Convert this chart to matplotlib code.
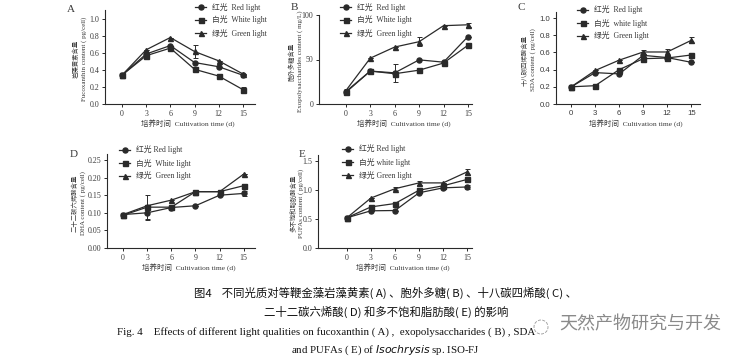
import numpy as np
import matplotlib.pyplot as plt
from matplotlib.lines import Line2D
from matplotlib.patches import Circle

plt.rcParams['font.family'] = ['Liberation Serif', 'Noto Sans CJK SC']
plt.rcParams['font.size'] = 6

W, H = 752, 359
days = [0, 3, 6, 9, 12, 15]

# fucoxanthin (pg/cell)
fx_red = [0.34, 0.59, 0.69, 0.49, 0.44, 0.34]
fx_white = [0.34, 0.57, 0.66, 0.41, 0.33, 0.17]
fx_green = [0.34, 0.64, 0.785, 0.62, 0.51, 0.355]
fx_err_green = [0, 0, 0, 0.075, 0, 0]
fx_err_white = [0, 0, 0, 0, 0, 0.025]

# exopolysaccharides (mg/L)
eps_red = [14, 37, 35, 49.6, 47, 75.7]
eps_white = [13, 37, 34, 38, 46, 66]
eps_green = [15, 51.5, 64, 70, 88, 89]
eps_err_red = [3, 0, 10.5, 0, 0, 0]
eps_err_green = [0, 0, 0, 5, 0, 2]

# SDA (pg/cell)
sda_red = [0.20, 0.365, 0.35, 0.566, 0.54, 0.485]
sda_white = [0.20, 0.213, 0.40, 0.527, 0.535, 0.57]
sda_green = [0.20, 0.39, 0.51, 0.605, 0.605, 0.74]
sda_err_green = [0, 0, 0, 0.02, 0.03, 0.035]

# DHA (pg/cell)
dha_red = [0.095, 0.10, 0.115, 0.12, 0.15, 0.155]
dha_white = [0.093, 0.116, 0.116, 0.16, 0.16, 0.177]
dha_green = [0.095, 0.12, 0.136, 0.16, 0.16, 0.21]
dha_err_red = [0, 0.02, 0, 0, 0, 0.006]
dha_err_white = [0, 0.035, 0, 0, 0, 0.006]

# PUFAs (pg/cell)
pu_red = [0.52, 0.64, 0.645, 0.95, 1.035, 1.05]
pu_white = [0.52, 0.707, 0.765, 0.995, 1.07, 1.18]
pu_green = [0.52, 0.86, 1.02, 1.12, 1.12, 1.31]
pu_err_red = [0, 0, 0, 0, 0, 0.04]
pu_err_white = [0, 0, 0, 0, 0, 0.05]
pu_err_green = [0, 0, 0.03, 0.03, 0, 0.05]

labels_A = ['红光  Red light', '白光  White light', '绿光  Green light']
labels_B = ['红光  Red light', '白光  White light', '绿光  Green light']
labels_C = ['红光  Red light', '白光  white light', '绿光  Green light']
labels_D = ['红光 Red light', '白光  White light', '绿光  Green light']
labels_E = ['红光 Red light', '白光 white light', '绿光 Green light']

ink = '#2a2a2a'
txt = '#3a3a3a'
fig = plt.figure(figsize=(W / 100, H / 100), dpi=100)


def px_axes(l, r, t, b):
    return fig.add_axes([l / W, 1 - b / H, (r - l) / W, (b - t) / H])


def ftext(x, y, s, **kw):
    fig.text(x / W, 1 - y / H, s, color=txt, **kw)


def panel(box, xl, yl, yticks, ytl, series, errs, letter, lpos, ycn, yen, ylpos,
          labels, tickfont=None):
    ax = px_axes(*box)
    for y, m, e in zip(series, ['o', 's', '^'], errs):
        ax.errorbar(days, y, yerr=e, color=ink, marker=m, ms=3.6, lw=0.9,
                    elinewidth=0.7, capsize=1.8, capthick=0.7)
    ax.set_xlim(*xl)
    ax.set_ylim(*yl)
    ax.set_xticks(days)
    ax.set_yticks(yticks)
    ax.set_yticklabels(ytl)
    for s in ['top', 'right']:
        ax.spines[s].set_visible(False)
    for s in ['left', 'bottom']:
        ax.spines[s].set_linewidth(0.8)
        ax.spines[s].set_color(ink)
    ax.tick_params(length=2.5, width=0.7, colors=ink, labelsize=5.7, pad=1.5)
    for lab in ax.get_xticklabels() + ax.get_yticklabels():
        lab.set_color(txt)
        if tickfont:
            lab.set_family(tickfont)
            lab.set_fontsize(5.6)
    # panel letter
    ftext(letter[1], letter[2], letter[0], fontsize=8, ha='left', va='center')
    # y label (two lines)
    yc = (box[2] + box[3]) / 2 + 2
    ftext(ylpos[0], yc, ycn, fontsize=4.6, rotation=90, ha='center', va='center')
    ftext(ylpos[1], yc, yen, fontsize=5.0, rotation=90, ha='center', va='center')
    # x label
    ftext((box[0] + box[1]) / 2 + 8, box[3] + 20, '培养时间  Cultivation time (d)',
          fontsize=5.4, ha='center', va='center')
    # legend
    for i, (m, lab) in enumerate(zip(['o', 's', '^'], labels)):
        yy = 1 - (lpos[1] + i * 13) / H
        fig.add_artist(Line2D([lpos[0] / W, (lpos[0] + 11) / W], [yy, yy], color=ink,
                              lw=0.9, transform=fig.transFigure))
        fig.add_artist(Line2D([(lpos[0] + 5.5) / W], [yy], color=ink, marker=m, ms=3.6,
                              lw=0, transform=fig.transFigure))
        ftext(lpos[0] + 17, lpos[1] + i * 13, lab, fontsize=5.6, ha='left', va='center')
    return ax


def tl(vals, fmt):
    return [fmt % v for v in vals]


panel((105, 255, 10, 104), (-2.1, 16.5), (0, 1.11), np.arange(0, 1.01, 0.2),
      tl(np.arange(0, 1.01, 0.2), '%.1f'),
      [fx_red, fx_white, fx_green], [[0] * 6, fx_err_white, fx_err_green],
      ('A', 67, 9), (195, 7), '岩藻黄素含量', 'Fucoxanthin content ( pg/cell)',
      (76, 84), labels_A)

panel((319, 472, 15, 104), (-3.3, 15.5), (0, 100), [0, 50, 100],
      ['0', '50', '100'],
      [eps_red, eps_white, eps_green], [eps_err_red, [0] * 6, eps_err_green],
      ('B', 291, 7), (340, 7), '胞外多糖含量', 'Exopolysaccharides content ( mg/L)',
      (292, 300), labels_B)

panel((556, 700, 12, 104), (-1.9, 16.1), (0, 1.07), np.arange(0, 1.01, 0.2),
      tl(np.arange(0, 1.01, 0.2), '%.1f'),
      [sda_red, sda_white, sda_green], [[0] * 6, [0] * 6, sda_err_green],
      ('C', 518, 7), (577, 10), '十八碳四烯酸含量', 'SDA content ( pg/cell)',
      (524, 533), labels_C, tickfont='Liberation Sans')

panel((107, 255, 154, 248), (-2.0, 16.4), (0, 0.267), np.arange(0, 0.251, 0.05),
      tl(np.arange(0, 0.251, 0.05), '%.2f'),
      [dha_red, dha_white, dha_green], [dha_err_red, dha_err_white, [0] * 6],
      ('D', 70, 155), (119, 150), '二十二碳六烯酸含量', 'DHA content ( pg/cell)',
      (74, 83), labels_D)

panel((318, 472, 155, 248), (-3.6, 15.6), (0, 1.6), [0, 0.5, 1.0, 1.5],
      ['0.0', '0.5', '1.0', '1.5'],
      [pu_red, pu_white, pu_green], [pu_err_red, pu_err_white, pu_err_green],
      ('E', 299, 155), (342, 149), '多不饱和脂肪酸含量', 'PUFAs content ( pg/cell)',
      (293, 301), labels_E)

# caption
cap = dict(ha='center', va='center', color='#111111')
fig.text(385 / W, 1 - 293 / H,
         '图4    不同光质对等鞭金藻岩藻黄素( A) 、胞外多糖( B) 、十八碳四烯酸( C) 、',
         fontsize=8.2, family=['Noto Sans CJK SC'], **cap)
fig.text(386 / W, 1 - 312 / H,
         '二十二碳六烯酸( D) 和多不饱和脂肪酸( E) 的影响',
         fontsize=8.2, family=['Noto Sans CJK SC'], **cap)
fig.text(117 / W, 1 - 332 / H,
         'Fig. 4    Effects of different light qualities on fucoxanthin ( A) ,  '
         'exopolysaccharides ( B) , SDA',
         fontsize=7.8, ha='left', va='center', color='#111111')
fig.text(385 / W, 1 - 350 / H, 'and PUFAs ( E) of $\\it{Isochrysis}$ sp. ISO-FJ',
         fontsize=7.8, **cap)
# watermark
fig.add_artist(Circle((541 / 100, (H - 327) / 100), 0.07, transform=fig.dpi_scale_trans,
                      fill=False, ec='#999999', lw=0.6, ls='--'))
fig.text(559 / W, 1 - 324 / H, '天然产物研究与开发', fontsize=13, ha='left', va='center',
         color='#8a8a8a', family=['Noto Sans CJK SC'])

fig.savefig('out.png', dpi=100)
